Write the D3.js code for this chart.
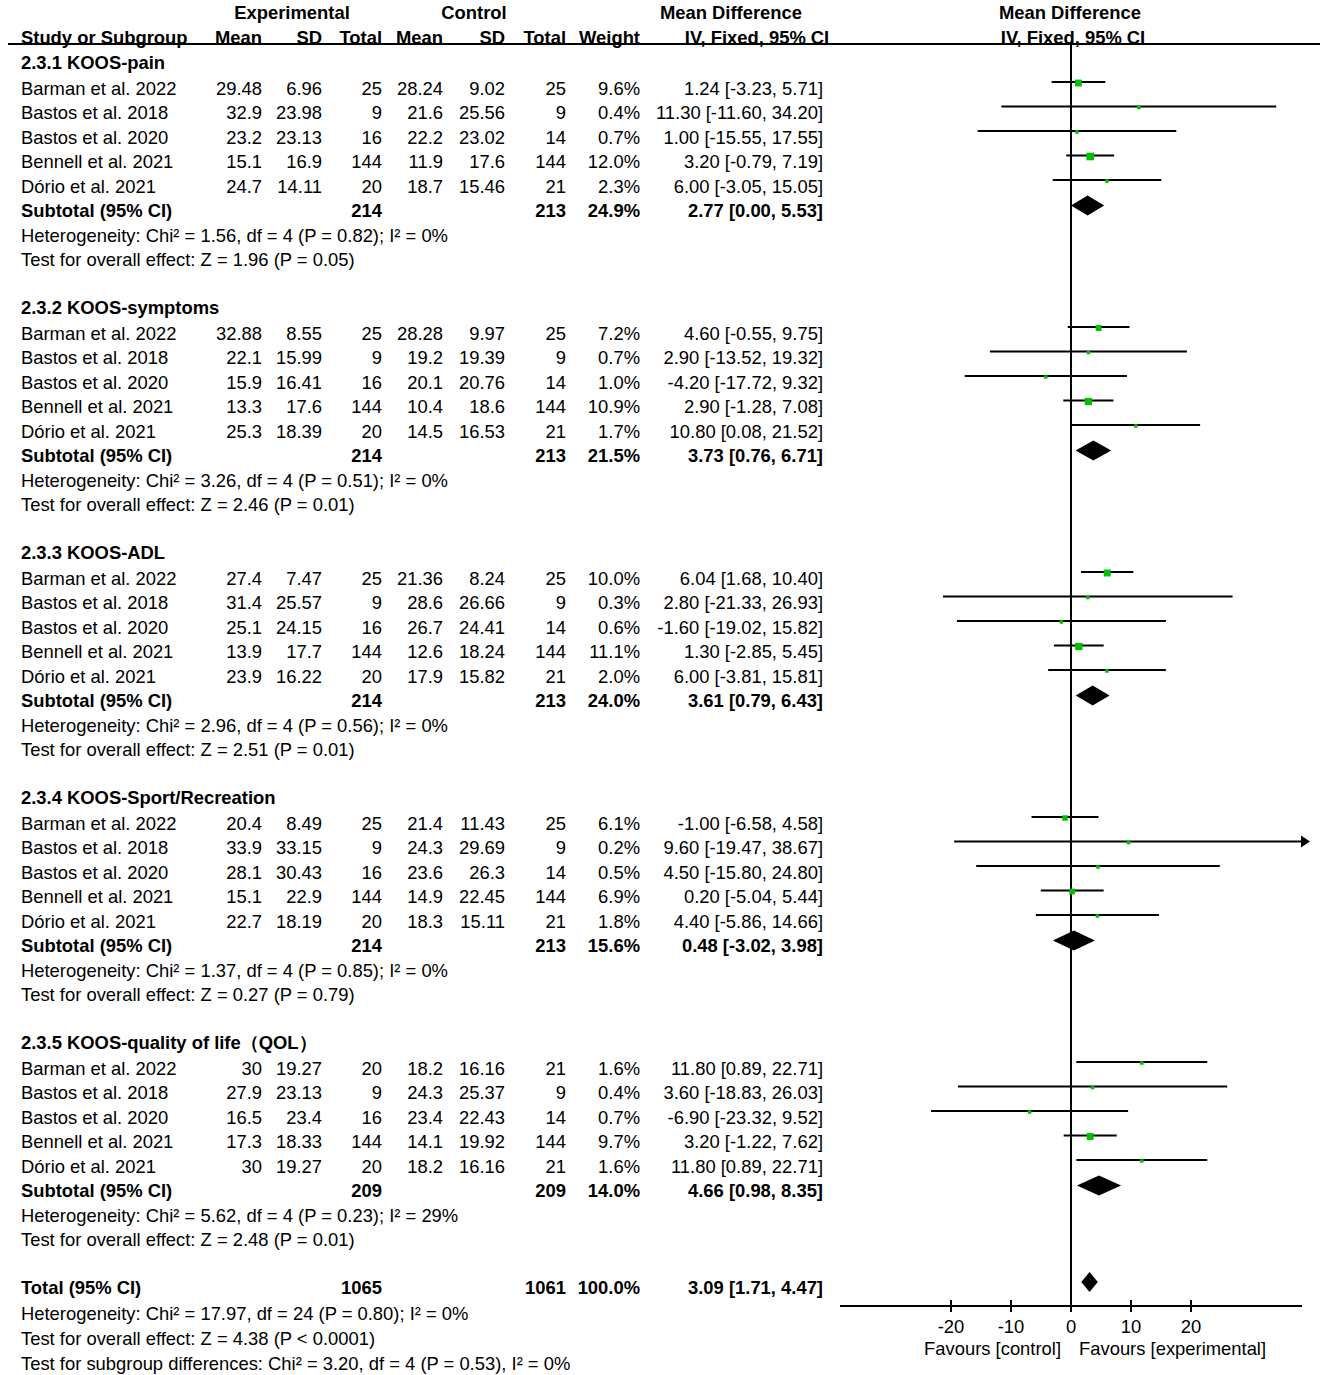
<!DOCTYPE html>
<html><head><meta charset="utf-8">
<script src="https://cdn.jsdelivr.net/npm/d3@7"></script>
<style>body{margin:0;background:#fff}svg text{font-family:"Liberation Sans",Arial,sans-serif;font-size:18.4px;fill:#000}</style>
</head><body><svg id="c" width="1325" height="1375"></svg>
<script>
const groupNames = ["2.3.1 KOOS-pain","2.3.2 KOOS-symptoms","2.3.3 KOOS-ADL","2.3.4 KOOS-Sport/Recreation","2.3.5 KOOS-quality of life（QOL）"];
const studyNames = ["Barman et al. 2022","Bastos et al. 2018","Bastos et al. 2020","Bennell et al. 2021","Dório et al. 2021"];
const expMean = [["29.48","32.9","23.2","15.1","24.7"],["32.88","22.1","15.9","13.3","25.3"],["27.4","31.4","25.1","13.9","23.9"],["20.4","33.9","28.1","15.1","22.7"],["30","27.9","16.5","17.3","30"]];
const expSD = [["6.96","23.98","23.13","16.9","14.11"],["8.55","15.99","16.41","17.6","18.39"],["7.47","25.57","24.15","17.7","16.22"],["8.49","33.15","30.43","22.9","18.19"],["19.27","23.13","23.4","18.33","19.27"]];
const expN = [[25,9,16,144,20],[25,9,16,144,20],[25,9,16,144,20],[25,9,16,144,20],[20,9,16,144,20]];
const ctlMean = [["28.24","21.6","22.2","11.9","18.7"],["28.28","19.2","20.1","10.4","14.5"],["21.36","28.6","26.7","12.6","17.9"],["21.4","24.3","23.6","14.9","18.3"],["18.2","24.3","23.4","14.1","18.2"]];
const ctlSD = [["9.02","25.56","23.02","17.6","15.46"],["9.97","19.39","20.76","18.6","16.53"],["8.24","26.66","24.41","18.24","15.82"],["11.43","29.69","26.3","22.45","15.11"],["16.16","25.37","22.43","19.92","16.16"]];
const ctlN = [[25,9,14,144,21],[25,9,14,144,21],[25,9,14,144,21],[25,9,14,144,21],[21,9,14,144,21]];
const weight = [[9.6,0.4,0.7,12.0,2.3],[7.2,0.7,1.0,10.9,1.7],[10.0,0.3,0.6,11.1,2.0],[6.1,0.2,0.5,6.9,1.8],[1.6,0.4,0.7,9.7,1.6]];
const md = [[1.24,11.30,1.00,3.20,6.00],[4.60,2.90,-4.20,2.90,10.80],[6.04,2.80,-1.60,1.30,6.00],[-1.00,9.60,4.50,0.20,4.40],[11.80,3.60,-6.90,3.20,11.80]];
const lo = [[-3.23,-11.60,-15.55,-0.79,-3.05],[-0.55,-13.52,-17.72,-1.28,0.08],[1.68,-21.33,-19.02,-2.85,-3.81],[-6.58,-19.47,-15.80,-5.04,-5.86],[0.89,-18.83,-23.32,-1.22,0.89]];
const hi = [[5.71,34.20,17.55,7.19,15.05],[9.75,19.32,9.32,7.08,21.52],[10.40,26.93,15.82,5.45,15.81],[4.58,38.67,24.80,5.44,14.66],[22.71,26.03,9.52,7.62,22.71]];
const subExpN = [214,214,214,214,209];
const subCtlN = [213,213,213,213,209];
const subWeight = [24.9,21.5,24.0,15.6,14.0];
const subMD = [2.77,3.73,3.61,0.48,4.66];
const subLo = [0.00,0.76,0.79,-3.02,0.98];
const subHi = [5.53,6.71,6.43,3.98,8.35];
const hetText = ["Heterogeneity: Chi² = 1.56, df = 4 (P = 0.82); I² = 0%","Heterogeneity: Chi² = 3.26, df = 4 (P = 0.51); I² = 0%","Heterogeneity: Chi² = 2.96, df = 4 (P = 0.56); I² = 0%","Heterogeneity: Chi² = 1.37, df = 4 (P = 0.85); I² = 0%","Heterogeneity: Chi² = 5.62, df = 4 (P = 0.23); I² = 29%"];
const testText = ["Test for overall effect: Z = 1.96 (P = 0.05)","Test for overall effect: Z = 2.46 (P = 0.01)","Test for overall effect: Z = 2.51 (P = 0.01)","Test for overall effect: Z = 0.27 (P = 0.79)","Test for overall effect: Z = 2.48 (P = 0.01)"];
const total = {expN:1065, ctlN:1061, weight:100.0, md:3.09, lo:1.71, hi:4.47};
const totalText = ["Heterogeneity: Chi² = 17.97, df = 24 (P = 0.80); I² = 0%","Test for overall effect: Z = 4.38 (P < 0.0001)","Test for subgroup differences: Chi² = 3.20, df = 4 (P = 0.53), I² = 0%"];
const tickValues = [-20,-10,0,10,20];

const svg = d3.select("#c");
const x = d3.scaleLinear().domain([-38.5,38.5]).range([840,1302]);
const ROW = 24.5, GROUP = 245, FIRST = 88;
const col = {name:21, em:262, es:322, en:382, cm:443, cs:505, cn:566, w:640, ci:823};
const f2 = v => v.toFixed(2), f1 = v => v.toFixed(1);
function txt(xp, yp, s, anchor, bold){
  return svg.append("text").attr("x",xp).attr("y",yp).attr("dy","0.36em")
    .attr("text-anchor",anchor||"start").attr("font-weight",bold?"bold":null).text(s);
}
function ciStr(m,l,h){return f2(m)+" ["+f2(l)+", "+f2(h)+"]";}

// headers
txt(292,12,"Experimental","middle",true);
txt(474,12,"Control","middle",true);
txt(731,12,"Mean Difference","middle",true);
txt(1070,12,"Mean Difference","middle",true);
txt(col.name,37,"Study or Subgroup","start",true);
txt(col.em,37,"Mean","end",true);
txt(col.es,37,"SD","end",true);
txt(col.en,37,"Total","end",true);
txt(col.cm,37,"Mean","end",true);
txt(col.cs,37,"SD","end",true);
txt(col.cn,37,"Total","end",true);
txt(col.w,37,"Weight","end",true);
txt(757,37,"IV, Fixed, 95% CI","middle",true);
txt(1073,37,"IV, Fixed, 95% CI","middle",true);
svg.append("line").attr("x1",8).attr("x2",1320).attr("y1",44).attr("y2",44).attr("stroke","#000").attr("stroke-width",2);

const totalY = FIRST + 4*GROUP + 7*ROW + 47.5;
// zero line
svg.append("line").attr("x1",x(0)).attr("x2",x(0)).attr("y1",44).attr("y2",1306).attr("stroke","#000").attr("stroke-width",2);

const diamond = (m,l,h,cy)=>`M${x(l)},${cy} L${x(m)},${cy-10} L${x(h)},${cy} L${x(m)},${cy+10} Z`;

groupNames.forEach((g,gi)=>{
  const y0 = FIRST + gi*GROUP;
  txt(col.name, y0-26, g, "start", true);
  studyNames.forEach((s,si)=>{
    const y = y0 + si*ROW;
    txt(col.name,y,s);
    txt(col.em,y,expMean[gi][si],"end");
    txt(col.es,y,expSD[gi][si],"end");
    txt(col.en,y,expN[gi][si],"end");
    txt(col.cm,y,ctlMean[gi][si],"end");
    txt(col.cs,y,ctlSD[gi][si],"end");
    txt(col.cn,y,ctlN[gi][si],"end");
    txt(col.w,y,f1(weight[gi][si])+"%","end");
    txt(col.ci,y,ciStr(md[gi][si],lo[gi][si],hi[gi][si]),"end");
    const ly = y - 6;
    const [dlo, dhi] = x.domain();
    const clippedHi = Math.min(hi[gi][si], dhi), clippedLo = Math.max(lo[gi][si], dlo);
    svg.append("line").attr("x1",x(clippedLo)).attr("x2",x(clippedHi)).attr("y1",ly).attr("y2",ly).attr("stroke","#000").attr("stroke-width",2);
    if (hi[gi][si] > dhi){
      const ax = x(dhi);
      svg.append("path").attr("d",`M${ax-1},${ly-6} L${ax+8},${ly} L${ax-1},${ly+6} Z`).attr("fill","#000");
    }
    const sz = Math.max(3.5, 2.2*Math.sqrt(weight[gi][si]));
    svg.append("rect").attr("x",x(md[gi][si])-sz/2).attr("y",ly-sz/2+1).attr("width",sz).attr("height",sz).attr("fill","#00c000");
  });
  const ys = y0 + 5*ROW;
  txt(col.name,ys,"Subtotal (95% CI)","start",true);
  txt(col.en,ys,subExpN[gi],"end",true);
  txt(col.cn,ys,subCtlN[gi],"end",true);
  txt(col.w,ys,f1(subWeight[gi])+"%","end",true);
  txt(col.ci,ys,ciStr(subMD[gi],subLo[gi],subHi[gi]),"end",true);
  svg.append("path").attr("d",diamond(subMD[gi],subLo[gi],subHi[gi],ys-5)).attr("fill","#000");
  txt(col.name,y0+6*ROW,hetText[gi]);
  txt(col.name,y0+7*ROW,testText[gi]);
});

// total
txt(col.name,totalY,"Total (95% CI)","start",true);
txt(col.en,totalY,total.expN,"end",true);
txt(col.cn,totalY,total.ctlN,"end",true);
txt(col.w,totalY,f1(total.weight)+"%","end",true);
txt(col.ci,totalY,ciStr(total.md,total.lo,total.hi),"end",true);
svg.append("path").attr("d",diamond(total.md,total.lo,total.hi,totalY-5)).attr("fill","#000");
totalText.forEach((t,i)=>txt(col.name,totalY+26+i*25,t));

// axis
const axisY = 1306;
const ax = svg.append("g").attr("transform",`translate(0,${axisY})`);
ax.append("line").attr("x1",x.range()[0]).attr("x2",x.range()[1]).attr("stroke","#000").attr("stroke-width",2);
tickValues.forEach(t=>{
  ax.append("line").attr("x1",x(t)).attr("x2",x(t)).attr("y1",-6).attr("y2",6).attr("stroke","#000").attr("stroke-width",2);
  ax.append("text").attr("x",x(t)).attr("y",20).attr("dy","0.36em").attr("text-anchor","middle").text(t);
});
ax.append("text").attr("x",x(0)-10).attr("y",42).attr("dy","0.36em").attr("text-anchor","end").text("Favours [control]");
ax.append("text").attr("x",x(0)+8).attr("y",42).attr("dy","0.36em").attr("text-anchor","start").text("Favours [experimental]");
</script></body></html>
